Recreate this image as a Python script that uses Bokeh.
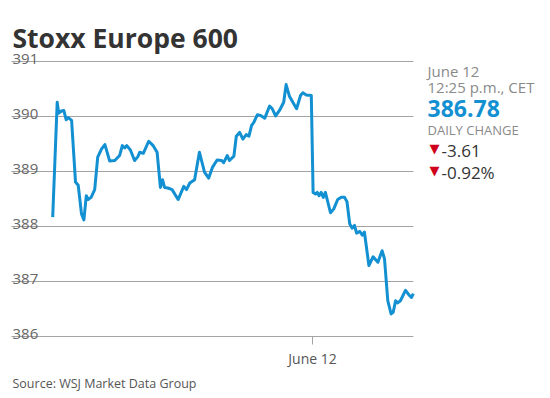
from bokeh.plotting import figure
from bokeh.models import Range1d
from bokeh.core.properties import value
from bokeh.embed import file_html
from bokeh.resources import INLINE

# Data: hours relative to the June 12 open (CET), index level
hours = [-8.66, -8.51, -8.46, -8.37, -8.29, -8.21, -8.14, -8.03, -7.90, -7.81,
         -7.70, -7.62, -7.54, -7.48, -7.38, -7.26, -7.16, -7.03, -6.92, -6.76,
         -6.59, -6.43, -6.34, -6.26, -6.19, -6.07, -5.93, -5.82, -5.76, -5.64,
         -5.46, -5.31, -5.18, -5.07, -5.00, -4.93, -4.82, -4.68, -4.48, -4.29,
         -4.20, -4.09, -3.93, -3.77, -3.60, -3.46, -3.34, -3.18, -3.03, -2.96,
         -2.84, -2.77, -2.62, -2.54, -2.43, -2.32, -2.21, -2.12, -2.03, -1.96,
         -1.84, -1.73, -1.59, -1.43, -1.34, -1.23, -1.10, -0.96, -0.88, -0.77,
         -0.53, -0.40, -0.32, -0.21, -0.04, 0.02, 0.10, 0.16, 0.22, 0.29,
         0.36, 0.43, 0.60, 0.71, 0.84, 0.96, 1.07, 1.15, 1.24, 1.32,
         1.40, 1.47, 1.58, 1.66, 1.73, 1.88, 2.02, 2.18, 2.32, 2.40,
         2.51, 2.62, 2.69, 2.77, 2.84, 2.93, 3.10, 3.21, 3.30, 3.36]
level = [388.17, 390.26, 390.06, 390.10, 390.11, 389.94, 389.98, 389.93, 388.81, 388.75,
         388.23, 388.12, 388.56, 388.49, 388.53, 388.67, 389.26, 389.41, 389.49, 389.19,
         389.20, 389.29, 389.47, 389.43, 389.47, 389.39, 389.20, 389.27, 389.35, 389.33,
         389.55, 389.47, 389.35, 388.71, 388.85, 388.71, 388.70, 388.67, 388.49, 388.73,
         388.67, 388.79, 388.85, 389.35, 388.99, 388.88, 389.07, 389.21, 389.20, 389.16,
         389.29, 389.20, 389.28, 389.64, 389.71, 389.59, 389.67, 389.64, 389.84, 389.89,
         390.03, 390.02, 389.97, 390.19, 390.14, 390.01, 390.11, 390.26, 390.58, 390.37,
         390.14, 390.38, 390.43, 390.39, 390.38, 388.62, 388.59, 388.62, 388.56, 388.62,
         388.53, 388.62, 388.25, 388.32, 388.49, 388.53, 388.53, 388.45, 388.05, 387.97,
         388.02, 387.88, 387.91, 387.84, 387.90, 387.29, 387.45, 387.35, 387.56, 387.41,
         386.65, 386.41, 386.44, 386.65, 386.61, 386.65, 386.84, 386.76, 386.71, 386.78]

y_ticks = [386, 387, 388, 389, 390, 391]
y_tick_labels = ["386", "387", "388", "389", "390", "391"]
x_ticks = [0]
x_tick_labels = ["June 12"]

title_text = "Stoxx Europe 600"
source_text = "Source: WSJ Market Data Group"
panel_date = "June 12"
panel_time = "12:25 p.m., CET"
panel_last = "386.78"
panel_change_label = "DAILY CHANGE"
panel_change = "-3.61"
panel_change_pct = "-0.92%"

BLUE = "#1290d2"
GRID = "#a3a3a3"
RED = "#d0021b"
FONT = "Open Sans"

W, H = 544, 392
px_per_hour = 30.0
px_per_unit = 55.0
x_start = -10.4
y_end = 392.109
chart_start, chart_end = -10.033, 3.36

p = figure(width=W, height=H, output_backend="svg", toolbar_location=None,
           x_axis_location=None, y_axis_location=None,
           x_range=Range1d(x_start, x_start + W / px_per_hour),
           y_range=Range1d(y_end - H / px_per_unit, y_end),
           min_border=0, outline_line_color=None)
p.xgrid.visible = False
p.ygrid.visible = False
p.background_fill_color = "white"
p.border_fill_color = "white"

# gridlines
n = len(y_ticks)
p.segment(x0=[chart_start] * n, y0=y_ticks, x1=[chart_end] * n, y1=y_ticks,
          line_color=GRID, line_width=1)
# y labels sitting on the gridlines
p.text(x=[chart_start] * n, y=y_ticks, text=y_tick_labels, x_offset=1, y_offset=-2,
       text_baseline="alphabetic", text_align="left", text_font=value(FONT),
       text_font_size="15px", text_color="#666666")
# x tick + label
m = len(x_ticks)
p.segment(x0=x_ticks, y0=[y_ticks[0]] * m, x1=x_ticks,
          y1=[y_ticks[0] - 8 / px_per_unit] * m, line_color=GRID, line_width=1)
p.text(x=x_ticks, y=[y_ticks[0]] * m, text=x_tick_labels, y_offset=22,
       text_baseline="alphabetic", text_align="center", text_font=value(FONT),
       text_font_size="14px", text_color="#555555")

# the series
p.line(hours, level, line_color=BLUE, line_width=3, line_join="round")


def txt(px, py, text, size, color, style="normal", font=FONT):
    # anchored at the top-left corner of the canvas, offset in pixels
    p.text(x=[x_start], y=[y_end], text=[text], x_offset=px, y_offset=py,
           text_font=value(font), text_font_size=size, text_color=color,
           text_font_style=style, text_baseline="alphabetic", text_align="left")


txt(12, 37, title_text, "26.5px", "#333333", "bold")
txt(12, 383, source_text, "12.5px", "#555555")
txt(427, 70, panel_date, "15px", "#8a8a8a")
txt(427, 86, panel_time, "15px", "#8a8a8a")
txt(427, 108, panel_last, "23px", BLUE, "bold")
txt(427, 129, panel_change_label, "13px", "#8a8a8a")
txt(429, 148, "▼", "13px", RED, font="DejaVu Sans")
txt(441, 150, panel_change, "17px", "#333333")
txt(429, 170, "▼", "13px", RED, font="DejaVu Sans")
txt(441, 171.5, panel_change_pct, "17px", "#333333")

open("out.html", "w").write(file_html(p, INLINE))
